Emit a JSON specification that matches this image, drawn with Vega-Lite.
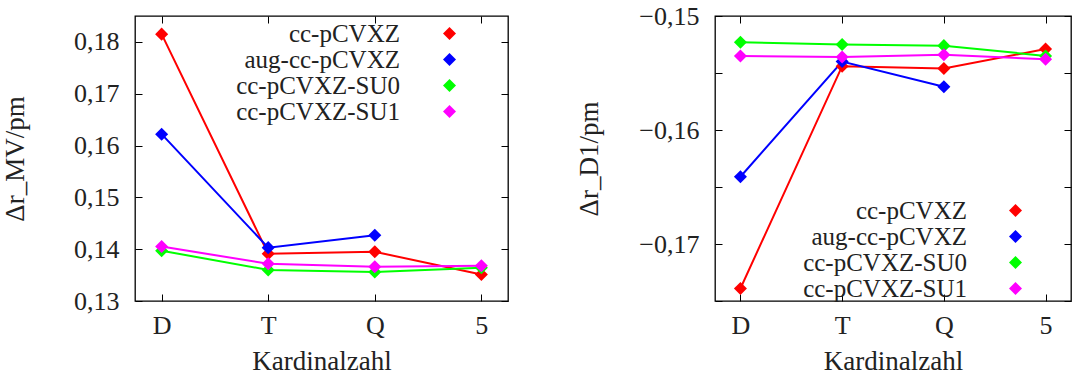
{
  "$schema": "https://vega.github.io/schema/vega-lite/v6.json",
  "padding": {"left": 0, "top": 2, "right": 0, "bottom": 0},
  "background": "white",
  "datasets": {
    "mv": [
      {"basis": "cc-pCVXZ", "zeta": 2, "value": 0.1815},
      {"basis": "cc-pCVXZ", "zeta": 3, "value": 0.1391},
      {"basis": "cc-pCVXZ", "zeta": 4, "value": 0.1395},
      {"basis": "cc-pCVXZ", "zeta": 5, "value": 0.1351},
      {"basis": "aug-cc-pCVXZ", "zeta": 2, "value": 0.1622},
      {"basis": "aug-cc-pCVXZ", "zeta": 3, "value": 0.1403},
      {"basis": "aug-cc-pCVXZ", "zeta": 4, "value": 0.1427},
      {"basis": "cc-pCVXZ-SU0", "zeta": 2, "value": 0.1397},
      {"basis": "cc-pCVXZ-SU0", "zeta": 3, "value": 0.1360},
      {"basis": "cc-pCVXZ-SU0", "zeta": 4, "value": 0.1356},
      {"basis": "cc-pCVXZ-SU0", "zeta": 5, "value": 0.1364},
      {"basis": "cc-pCVXZ-SU1", "zeta": 2, "value": 0.1405},
      {"basis": "cc-pCVXZ-SU1", "zeta": 3, "value": 0.1372},
      {"basis": "cc-pCVXZ-SU1", "zeta": 4, "value": 0.1366},
      {"basis": "cc-pCVXZ-SU1", "zeta": 5, "value": 0.1368}
    ],
    "d1": [
      {"basis": "cc-pCVXZ", "zeta": 2, "value": -0.1739},
      {"basis": "cc-pCVXZ", "zeta": 3, "value": -0.1544},
      {"basis": "cc-pCVXZ", "zeta": 4, "value": -0.1546},
      {"basis": "cc-pCVXZ", "zeta": 5, "value": -0.1529},
      {"basis": "aug-cc-pCVXZ", "zeta": 2, "value": -0.1641},
      {"basis": "aug-cc-pCVXZ", "zeta": 3, "value": -0.1540},
      {"basis": "aug-cc-pCVXZ", "zeta": 4, "value": -0.1562},
      {"basis": "cc-pCVXZ-SU0", "zeta": 2, "value": -0.1523},
      {"basis": "cc-pCVXZ-SU0", "zeta": 3, "value": -0.1525},
      {"basis": "cc-pCVXZ-SU0", "zeta": 4, "value": -0.1526},
      {"basis": "cc-pCVXZ-SU0", "zeta": 5, "value": -0.1535},
      {"basis": "cc-pCVXZ-SU1", "zeta": 2, "value": -0.1535},
      {"basis": "cc-pCVXZ-SU1", "zeta": 3, "value": -0.1536},
      {"basis": "cc-pCVXZ-SU1", "zeta": 4, "value": -0.1534},
      {"basis": "cc-pCVXZ-SU1", "zeta": 5, "value": -0.1538}
    ]
  },
  "hconcat": [
    {
      "width": 373,
      "height": 285,
      "data": {"name": "mv"},
      "layer": [
        {
          "mark": {"type": "line", "strokeWidth": 2},
          "encoding": {
            "x": {"field": "zeta", "type": "quantitative", "scale": {"domain": [1.75, 5.25], "nice": false, "zero": false},
              "axis": {"values": [2, 3, 4, 5], "labelExpr": "datum.value == 2 ? 'D' : datum.value == 3 ? 'T' : datum.value == 4 ? 'Q' : '5'", "title": "Kardinalzahl", "titleFont": "Liberation Serif", "labelFont": "Liberation Serif", "labelPadding": 18, "titlePadding": 10}},
            "y": {"field": "value", "type": "quantitative", "scale": {"domain": [0.13, 0.185], "nice": false, "zero": false},
              "axis": {"values": [0.13, 0.14, 0.15, 0.16, 0.17, 0.18], "labelExpr": "replace(format(datum.value, '.2f'), '.', ',')", "title": "Δr_MV/pm", "titleFont": "Liberation Serif", "labelFont": "Liberation Serif", "labelPadding": 23, "titlePadding": 44}},
            "color": {"field": "basis", "type": "nominal",
              "scale": {"domain": ["cc-pCVXZ", "aug-cc-pCVXZ", "cc-pCVXZ-SU0", "cc-pCVXZ-SU1"], "range": ["#ff0000", "#0000ff", "#00ff00", "#ff00ff"]},
              "legend": {"orient": "none", "legendX": 302, "legendY": 5, "title": null, "padding": 0, "rowPadding": 0, "labelAlign": "right", "labelOffset": -62, "labelFont": "Liberation Serif", "labelFontSize": 25, "labelColor": "#222", "symbolType": "diamond", "symbolSize": 170, "symbolStrokeWidth": 0, "labelLimit": 400}}
          }
        },
        {
          "mark": {"type": "point", "shape": "diamond", "filled": true, "size": 170, "opacity": 1},
          "encoding": {
            "x": {"field": "zeta", "type": "quantitative", "axis": null},
            "y": {"field": "value", "type": "quantitative", "axis": null},
            "color": {"field": "basis", "type": "nominal",
              "scale": {"domain": ["cc-pCVXZ", "aug-cc-pCVXZ", "cc-pCVXZ-SU0", "cc-pCVXZ-SU1"], "range": ["#ff0000", "#0000ff", "#00ff00", "#ff00ff"]},
              "legend": {"orient": "none", "legendX": 302, "legendY": 5, "title": null, "padding": 0, "rowPadding": 0, "labelAlign": "right", "labelOffset": -62, "labelFont": "Liberation Serif", "labelFontSize": 25, "labelColor": "#222", "symbolType": "diamond", "symbolSize": 170, "symbolStrokeWidth": 0, "labelLimit": 400}}
          }
        },
        {
          "mark": {"type": "point", "opacity": 0},
          "encoding": {
            "x": {"field": "zeta", "type": "quantitative", "axis": {"orient": "top", "values": [2, 3, 4, 5], "labels": false, "title": null}},
            "y": {"field": "value", "type": "quantitative", "axis": {"orient": "right", "values": [0.13, 0.14, 0.15, 0.16, 0.17, 0.18], "labels": false, "title": null}}
          }
        }
      ],
      "resolve": {"axis": {"x": "independent", "y": "independent"}}
    },
    {
      "width": 356,
      "height": 285,
      "data": {"name": "d1"},
      "layer": [
        {
          "mark": {"type": "line", "strokeWidth": 2},
          "encoding": {
            "x": {"field": "zeta", "type": "quantitative", "scale": {"domain": [1.75, 5.25], "nice": false, "zero": false},
              "axis": {"values": [2, 3, 4, 5], "labelExpr": "datum.value == 2 ? 'D' : datum.value == 3 ? 'T' : datum.value == 4 ? 'Q' : '5'", "title": "Kardinalzahl", "titleFont": "Liberation Serif", "labelFont": "Liberation Serif", "labelPadding": 18, "titlePadding": 10}},
            "y": {"field": "value", "type": "quantitative", "scale": {"domain": [-0.175, -0.15], "nice": false, "zero": false},
              "axis": {"values": [-0.175, -0.17, -0.165, -0.16, -0.155, -0.15], "labelExpr": "round(datum.value * 1000) % 10 == 0 && datum.value > -0.174 ? replace(format(datum.value, '.2f'), '.', ',') : ''", "title": "Δr_D1/pm", "titleFont": "Liberation Serif", "labelFont": "Liberation Serif", "labelPadding": 23, "titlePadding": 35}},
            "color": {"field": "basis", "type": "nominal",
              "scale": {"domain": ["cc-pCVXZ", "aug-cc-pCVXZ", "cc-pCVXZ-SU0", "cc-pCVXZ-SU1"], "range": ["#ff0000", "#0000ff", "#00ff00", "#ff00ff"]},
              "legend": {"orient": "none", "legendX": 288, "legendY": 182, "title": null, "padding": 0, "rowPadding": 0, "labelAlign": "right", "labelOffset": -61, "labelFont": "Liberation Serif", "labelFontSize": 25, "labelColor": "#222", "symbolType": "diamond", "symbolSize": 170, "symbolStrokeWidth": 0, "labelLimit": 400}}
          }
        },
        {
          "mark": {"type": "point", "shape": "diamond", "filled": true, "size": 170, "opacity": 1},
          "encoding": {
            "x": {"field": "zeta", "type": "quantitative", "axis": null},
            "y": {"field": "value", "type": "quantitative", "axis": null},
            "color": {"field": "basis", "type": "nominal",
              "scale": {"domain": ["cc-pCVXZ", "aug-cc-pCVXZ", "cc-pCVXZ-SU0", "cc-pCVXZ-SU1"], "range": ["#ff0000", "#0000ff", "#00ff00", "#ff00ff"]},
              "legend": {"orient": "none", "legendX": 288, "legendY": 182, "title": null, "padding": 0, "rowPadding": 0, "labelAlign": "right", "labelOffset": -61, "labelFont": "Liberation Serif", "labelFontSize": 25, "labelColor": "#222", "symbolType": "diamond", "symbolSize": 170, "symbolStrokeWidth": 0, "labelLimit": 400}}
          }
        },
        {
          "mark": {"type": "point", "opacity": 0},
          "encoding": {
            "x": {"field": "zeta", "type": "quantitative", "axis": {"orient": "top", "values": [2, 3, 4, 5], "labels": false, "title": null}},
            "y": {"field": "value", "type": "quantitative", "axis": {"orient": "right", "values": [-0.175, -0.17, -0.165, -0.16, -0.155, -0.15], "labels": false, "title": null}}
          }
        }
      ],
      "resolve": {"axis": {"x": "independent", "y": "independent"}}
    }
  ],
  "spacing": 65,
  "resolve": {"legend": {"color": "independent"}, "scale": {"color": "independent"}},
  "config": {
    "view": {"stroke": "black", "strokeWidth": 1.3},
    "style": {
      "guide-label": {"font": "Liberation Serif", "fontSize": 26, "fill": "#222"},
      "guide-title": {"font": "Liberation Serif", "fontSize": 27, "fill": "#222", "fontWeight": "normal"}
    },
    "axis": {
      "labelFont": "Liberation Serif",
      "titleFont": "Liberation Serif",
      "labelFontSize": 26,
      "titleFontSize": 27,
      "titleFontWeight": "normal",
      "labelColor": "#222",
      "titleColor": "#222",
      "domain": false,
      "grid": false,
      "tickColor": "black",
      "tickSize": -7,
      "tickWidth": 1,
      "labelFlush": false,
      "labelOverlap": false
    }
  }
}
